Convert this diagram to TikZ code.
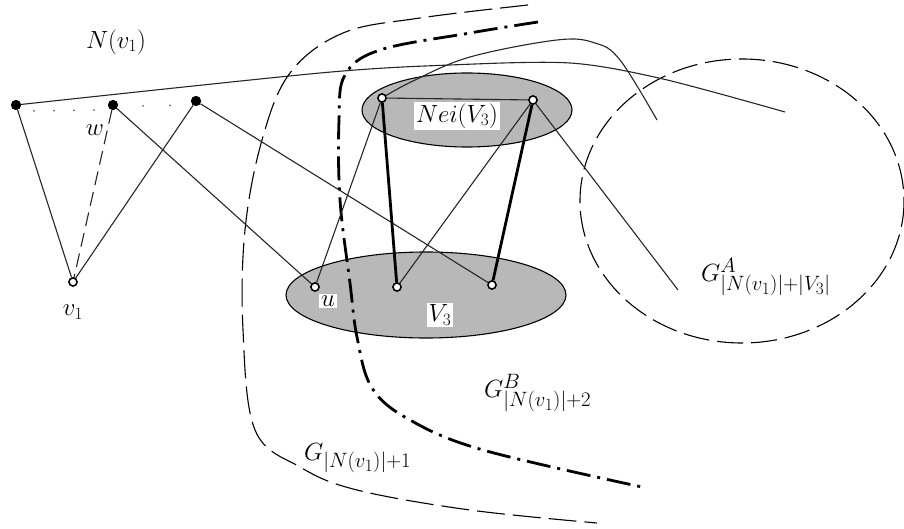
\documentclass[tikz,border=0pt]{standalone}
\usetikzlibrary{calc}
\DeclareMathSizes{27}{27}{21}{16}
\begin{document}
\begin{tikzpicture}[x=1pt,y=-1pt,
  thin line/.style={line width=1.1pt,black!85},
  thick line/.style={line width=2.8pt,black},
  opennode/.style={circle,draw,line width=1.4pt,fill=white,inner sep=0pt,minimum size=8pt},
  blacknode/.style={circle,fill=black,inner sep=0pt,minimum size=10pt},
  setell/.style={draw,line width=1.1pt,fill=black!28},
  lbl/.style={font=\fontsize{25}{30}\selectfont,inner sep=1pt},
  glbl/.style={font=\fontsize{27}{32}\selectfont,inner sep=1pt,anchor=west},
  boxlbl/.style={lbl,fill=white,inner sep=2pt}]
\useasboundingbox (0,0) rectangle (904,529);
% regions
\draw[setell] (467,110) ellipse [x radius=105,y radius=37];
\draw[setell] (426,295) ellipse [x radius=140,y radius=43];
\draw[line width=1.1pt,dash pattern=on 26pt off 8pt] (742,201) ellipse [x radius=162,y radius=142];
% boundary curves
\draw[line width=1.1pt,dash pattern=on 28pt off 8pt] plot[smooth,tension=0.6] coordinates
  {(528,5) (420,18) (343,33) (290,73) (262,140) (245,230) (243,330) (255,430) (300,467) (357,490) (470,510) (597,523)};
\draw[line width=2.8pt,dash pattern=on 24pt off 7pt on 3pt off 7pt] plot[smooth,tension=0.6] coordinates
  {(538,22) (470,33) (380,50) (345,75) (339,120) (340,200) (350,283) (357,337) (372,388) (410,420) (483,450) (642,487)};
% nodes
\node[blacknode] (a) at (16,105) {};
\node[blacknode] (w) at (113,105) {};
\node[blacknode] (c) at (196,101) {};
\node[opennode] (v1) at (73,282) {};
\node[opennode] (n1) at (382,98) {};
\node[opennode] (n2) at (533,100) {};
\node[opennode] (u) at (315,287) {};
\node[opennode] (m) at (397,287) {};
\node[opennode] (r) at (492,285) {};
\coordinate (e1) at (785,112);
\coordinate (e2) at (657,120);
\coordinate (e3) at (678,290);
% long curves
\draw[thin line] plot[smooth,tension=0.5] coordinates {(a.center) (320,73) (450,65) (570,63) (663,79) (e1)};
\draw[thin line] plot[smooth,tension=0.6] coordinates {(n1.center) (413,81) (470,57) (557,40) (595,43) (620,60) (e2)};
% dotted
\draw[line width=2pt,line cap=round,dash pattern=on 0pt off 20pt,black!60] ($(a)+(18,6)$) -- ($(w)+(-10,5)$);
\draw[line width=2pt,line cap=round,dash pattern=on 0pt off 27pt,black!60] ($(w)+(30,1)$) -- ($(c)+(-10,4)$);
% edges
\draw[thin line] (a) -- (v1);
\draw[thin line,dash pattern=on 14pt off 7pt] (w) -- (v1);
\draw[thin line] (c) -- (v1);
\draw[thin line] (w) -- (u);
\draw[thin line] (c) -- (r);
\draw[thin line] (n1) -- (n2);
\draw[thin line] (n1) -- (u);
\draw[thin line] (n2) -- (m);
\draw[thin line] (n2) -- (e3);
\draw[thick line] (n1) -- (m);
\draw[thick line] (n2) -- (r);
% redraw nodes on top
\foreach \p in {n1,n2,u,m,r,v1} \node[opennode] at (\p) {};
\foreach \p in {a,w,c} \node[blacknode] at (\p) {};
% labels
\node[lbl] (lN) at (116,42) {$N(v_1)$};
\node[lbl] (lw) at (95,130) {$w$};
\node[lbl] (lv) at (73,312) {$v_1$};
\node[boxlbl] (lu) at (328,301) {$u$};
\node[boxlbl] (lV) at (440,315) {$V_3$};
\node[boxlbl] (lNei) at (457,116) {$Nei(V_3)$};
\node[glbl] (lGA) at (700,277) {$G^{A}_{|N(v_1)|+|V_3|}$};
\node[glbl] (lGB) at (483,393) {$G^{B}_{|N(v_1)|+2}$};
\node[glbl] (lG1) at (303,458) {$G_{|N(v_1)|+1}$};
\end{tikzpicture}
\end{document}
